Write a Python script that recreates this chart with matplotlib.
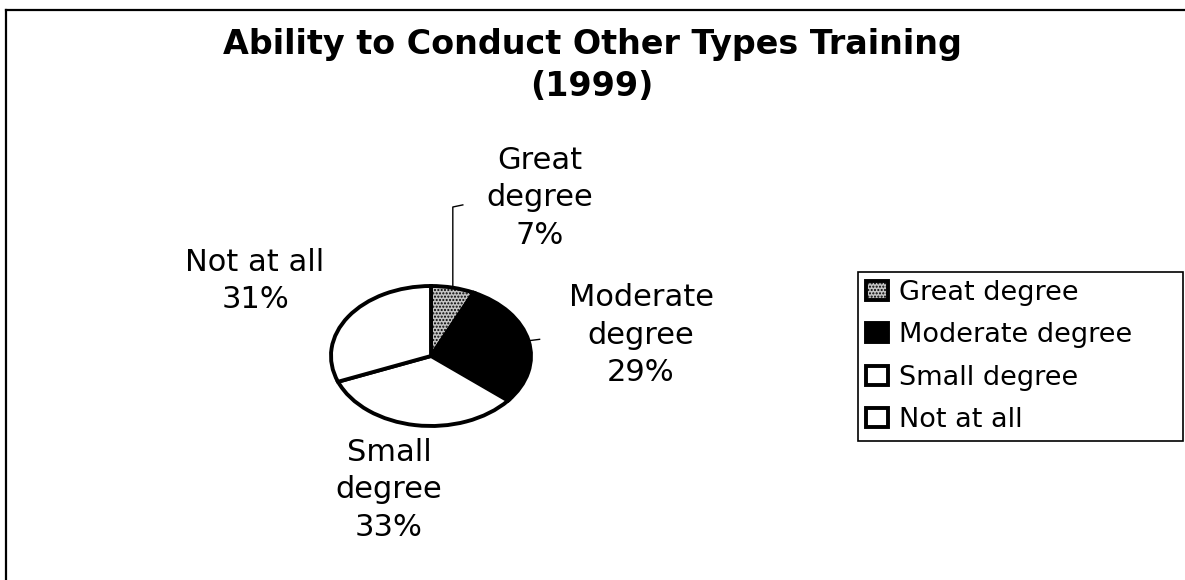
import numpy as np
import matplotlib.pyplot as plt
from matplotlib.lines import Line2D

categories = ["Great degree", "Moderate degree", "Small degree", "Not at all"]
label_names = ["Great\ndegree", "Moderate\ndegree", "Small\ndegree", "Not at all"]
values = [7, 29, 33, 31]
colors = ["#c4c4c4", "black", "white", "white"]

W, H = 1185, 580
def fx(px): return px / W
def fy(py): return 1 - py / H

plt.rcParams['font.family'] = ['DejaVu Sans']
fig = plt.figure(figsize=(W / 100, H / 100), dpi=100)

# outer frame (only top and left visible)
fig.add_artist(Line2D([fx(5.5), fx(5.5)], [0, fy(9.5)], color='black', lw=1.6))
fig.add_artist(Line2D([fx(5.5), 1], [fy(9.5), fy(9.5)], color='black', lw=1.6))

fig.text(fx(592), fy(28), "Ability to Conduct Other Types Training\n(1999)",
         ha='center', va='top', fontsize=24, fontweight='bold', linespacing=1.35)

# pie axes: 100 px per unit in x, 70 px per unit in y -> tilted ellipse
cx, cy = 431, 356
ax = fig.add_axes([fx(cx - 150), fy(cy + 105), 300 / W, 210 / H])
wedges, _ = ax.pie(values, colors=colors, startangle=90, counterclock=False,
                   wedgeprops=dict(edgecolor='black', linewidth=2.8))
wedges[0].set_hatch('.....')
ax.set_aspect('auto')
ax.set_xlim(-1.5, 1.5)
ax.set_ylim(-1.5, 1.5)
ax.axis('off')

# label block centres (pixels)
label_pos = [(540, 198), (641, 335), (389, 490), (255, 281)]
for name, v, (px, py) in zip(label_names, values, label_pos):
    fig.text(fx(px), fy(py), "%s\n%d%%" % (name, v), ha='center', va='center',
             multialignment='center', fontsize=22, linespacing=1.35)

# leader lines from the wedge mid-angles
mids = [np.deg2rad((w.theta1 + w.theta2) / 2) for w in wedges]
x0, y0 = np.cos(mids[0]), np.sin(mids[0])
ytop = (cy - 207) / 70
ax.plot([x0, x0, x0 + 0.1], [y0, ytop, ytop + 0.03], color='black', lw=1, clip_on=False)
x1, y1 = np.cos(mids[1]), np.sin(mids[1])
ax.plot([x1, x1 + 0.11], [y1, y1 + 0.02], color='black', lw=1, clip_on=False)

leg = fig.legend(wedges, categories, loc='upper left', mode='expand',
                 bbox_to_anchor=(fx(858), fy(442), (1183 - 858) / W, (442 - 272) / H),
                 fontsize=19.5, fancybox=False, edgecolor='black', framealpha=1,
                 handlelength=0.8, handleheight=0.7, handletextpad=0.4,
                 labelspacing=0.6, borderpad=0.3, borderaxespad=0)
leg.get_frame().set_linewidth(1.2)

fig.savefig('out.png', dpi=100)
